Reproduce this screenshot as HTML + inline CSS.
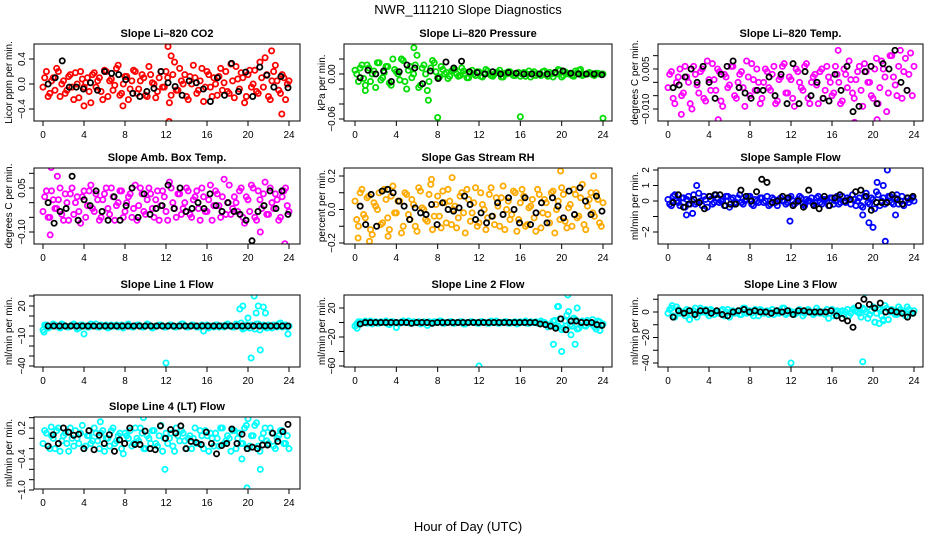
<!DOCTYPE html>
<html><head><meta charset="utf-8">
<style>
html,body{margin:0;padding:0;background:#fff;}
svg{display:block;font-family:"Liberation Sans",sans-serif;}
</style></head>
<body>
<svg id="chart" width="936" height="540" viewBox="0 0 936 540" xmlns="http://www.w3.org/2000/svg">
<text x="468" y="14" text-anchor="middle" font-size="13">NWR_111210  Slope Diagnostics</text>
<text x="468" y="531" text-anchor="middle" font-size="13">Hour of Day (UTC)</text>
</svg>
<script>
// ---------- data ----------
const xTicks = [0,4,8,12,16,20,24];

const co2Vals = [-0.05,0.2,-0.15,0.1,0.25,-0.2,0.05,-0.1,0.15,-0.25,0.0,0.2,-0.05,0.1,-0.3,0.18,0.05,-0.12,0.22,-0.2,0.08,-0.02,0.3,-0.15,0.12,-0.25,0.05,0.2,-0.08,0.15,-0.18,0.28,0.02,-0.22,0.1,-0.05,0.2,-0.3,0.15,-0.1,0.25,0.0,-0.2,0.12,0.3,-0.15,0.05,-0.28,0.2,-0.05,0.1,-0.18,0.25,0.02,-0.12,0.32,-0.22,0.08,0.18,-0.3,0.15,-0.05,0.22,-0.15,0.1,0.42,-0.2,0.05,0.3,-0.1,0.15,-0.25,0.05];
const co2Vals2 = [0.1,-0.2,0.05,-0.1,0.2,0.0,-0.15,0.12,-0.05,0.18,-0.22,0.08,0.02,-0.12,0.15,-0.05,0.1,-0.25,0.2,0.05,-0.1,0.25,-0.18,0.0,0.12,-0.08,0.22,-0.15,0.05,0.1,-0.2,0.15,0.0,-0.12,0.2,-0.05,0.1,-0.18,0.35,-0.1,0.05,0.15,-0.25,0.0,0.1,-0.1,0.25,-0.05,0.15,-0.2,0.0,0.12,-0.1,0.2,-0.15,0.05,0.28,-0.08,0.1,-0.2,0.22,0.0,-0.12,0.35,-0.05,0.15,-0.25,0.2,0.05,-0.15,0.1,0.0];
const co2Black = [0.0,0.1,0.37,-0.05,-0.05,-0.08,0.02,-0.1,0.2,0.17,0.15,0.07,-0.15,-0.2,-0.12,-0.07,0.2,0.02,-0.04,-0.18,0.05,0.02,-0.08,-0.28,0.1,-0.18,0.33,-0.12,0.19,-0.2,0.27,0.14,-0.05,0.12,-0.06];
const co2OutH = [12.2,12.3,12.5,22.3,23.3,7.8,4.0];
const co2OutV = [0.6,-0.6,0.45,0.53,-0.48,-0.35,-0.35];

const presVals = [0.005,-0.01,0.012,-0.015,0.008,0.0,-0.018,0.015,-0.005,0.01,-0.012,0.02,0.003,-0.008,0.018,-0.02,0.01,0.0,0.025,-0.015,0.012,-0.022,0.008,0.015,-0.005,0.01,0.0,-0.006,0.004,0.006,-0.003,0.008,0.0,-0.005,0.005,-0.002,0.003,-0.004,0.006,0.0,-0.003,0.002,0.005,-0.004,0.0,0.003,-0.002,0.001,-0.003,0.002,0.0,-0.004,0.003,0.0,-0.002,0.004,-0.003,0.0,0.002,0.006,-0.004,0.003,0.0,-0.002,0.004,0.005,-0.002,0.0,0.002,-0.001,0.001,0.0,0.0];
const presVals2 = [0.0,0.008,-0.006,0.012,-0.01,0.004,0.015,-0.008,0.002,0.01,-0.015,0.006,0.0,0.02,-0.01,0.005,-0.005,0.012,-0.018,0.008,0.0,-0.01,0.018,0.003,-0.004,0.006,0.002,-0.003,0.005,0.0,-0.002,0.004,-0.005,0.002,0.0,0.003,-0.003,0.001,0.004,-0.002,0.0,0.002,-0.004,0.001,0.003,0.0,-0.002,0.002,0.0,-0.003,0.004,0.001,-0.002,0.0,0.003,-0.001,0.002,-0.004,0.0,0.005,-0.002,0.001,0.0,-0.003,0.002,0.006,-0.001,0.0,0.001,-0.002,0.001,0.0];
const presBlack = [-0.005,0.005,0.0,0.004,-0.01,0.003,0.012,0.008,-0.013,0.004,-0.006,0.016,0.008,0.017,0.003,0.002,0.0,0.003,0.0,0.002,0.001,0.0,0.0,0.0,0.0,0.002,0.004,0.001,0.0,0.0,0.0,-0.001];
const presOutH = [5.7,7.1,8.0,16.0,24.0,4.5,1.0];
const presOutV = [0.035,-0.035,-0.058,-0.057,-0.059,0.02,-0.022];

const tempVals = [-0.002,0.004,-0.008,0.002,-0.005,0.006,0.0,-0.01,0.003,-0.004,0.005,-0.007,0.001,0.007,-0.003,0.004,-0.009,0.002,-0.001,0.006,-0.006,0.003,-0.002,0.008,-0.005,0.001,0.005,-0.008,0.0,0.004,-0.003,0.006,-0.007,0.002,0.007,-0.004,0.001,-0.009,0.004,-0.002,0.006,-0.006,0.0,0.003,-0.008,0.005,-0.003,0.002,-0.005,0.006,0.0,-0.007,0.003,0.008,-0.004,0.001,0.006,-0.009,0.004,0.0,-0.006,0.009,-0.002,0.005,-0.011,0.01,0.002,-0.005,0.012,0.004,-0.003,0.011,0.006];
const tempVals2 = [0.003,-0.006,0.0,0.005,-0.004,0.002,-0.008,0.006,-0.001,0.004,-0.006,0.008,-0.003,0.001,0.005,-0.007,0.003,-0.002,0.006,-0.005,0.0,0.004,-0.009,0.002,0.007,-0.003,0.0,-0.006,0.005,-0.002,0.003,-0.008,0.001,0.006,-0.004,0.002,-0.006,0.005,0.0,-0.003,0.007,-0.008,0.002,-0.001,0.004,-0.006,0.006,0.0,-0.004,0.003,-0.008,0.005,-0.002,0.001,-0.006,0.004,-0.003,0.007,0.0,-0.005,0.005,-0.008,0.008,0.002,-0.004,0.01,-0.001,0.006,-0.006,0.009,0.003,-0.005];
const tempBlack = [-0.002,-0.001,0.002,0.005,0.0,0.006,0.0,-0.006,0.003,0.006,0.008,-0.002,-0.004,-0.006,-0.003,-0.003,0.002,-0.005,0.003,-0.008,0.007,-0.008,0.004,-0.005,0.0,-0.006,-0.007,0.003,-0.003,0.006,-0.011,-0.009,0.004,0.006,-0.008,0.007,0.005,0.012,0.0,-0.003,-0.017];
const tempOutH = [1.3,4.9,16.6,18.2,20.4,22.3,23.9];
const tempOutV = [-0.012,-0.014,0.012,-0.015,-0.014,0.016,-0.017];

const ambVals = [-0.03,0.04,-0.05,0.01,-0.02,0.05,-0.06,0.0,0.03,-0.04,0.02,-0.07,0.04,-0.01,0.06,-0.03,0.01,-0.05,0.03,-0.02,0.05,-0.06,0.0,0.04,-0.03,0.02,-0.05,0.06,-0.01,0.03,-0.04,0.05,-0.02,0.01,-0.06,0.04,-0.03,0.07,0.0,-0.05,0.03,-0.02,0.05,-0.04,0.01,0.04,-0.06,0.02,-0.03,0.06,-0.01,0.03,-0.05,0.08,0.0,-0.04,0.02,-0.03,0.05,-0.07,0.01,0.06,-0.05,0.04,-0.02,0.07,-0.04,0.0,0.03,-0.06,0.02,0.05,-0.03];
const ambVals2 = [0.02,-0.05,0.04,-0.02,0.01,-0.04,0.03,-0.06,0.05,0.0,-0.03,0.02,-0.05,0.04,-0.02,0.03,-0.06,0.01,0.05,-0.04,0.02,-0.01,0.04,-0.05,0.0,0.03,-0.02,-0.06,0.05,-0.03,0.01,0.03,-0.05,0.04,-0.01,0.02,-0.06,0.05,-0.02,0.03,-0.04,0.0,0.04,-0.05,0.02,-0.02,0.05,-0.03,0.01,-0.06,0.04,-0.01,0.02,-0.04,0.06,-0.02,0.0,0.04,-0.05,0.02,-0.03,0.05,-0.06,0.01,0.03,-0.04,0.05,-0.02,0.01,-0.05,0.04,-0.01];
const ambBlack = [0.0,-0.07,-0.03,-0.02,0.09,-0.06,0.01,-0.01,0.04,-0.03,-0.06,0.02,-0.06,-0.01,0.05,-0.05,0.03,-0.04,-0.02,-0.01,0.06,-0.02,0.05,-0.03,-0.02,0.0,-0.02,0.03,-0.01,-0.03,0.0,-0.03,-0.04,-0.06,-0.13,-0.03,-0.01,0.04,-0.02,0.04,-0.04];
const ambOutH = [0.8,1.4,13.9,18.2,21.2,23.6,0.7];
const ambOutV = [0.12,0.09,0.13,0.13,-0.1,-0.14,-0.11];

const rhVals = [0.05,-0.1,0.12,-0.05,0.08,-0.15,0.02,0.1,-0.08,0.06,-0.12,0.14,-0.02,0.05,-0.1,0.09,-0.06,0.03,-0.13,0.11,0.0,-0.07,0.15,-0.04,0.08,-0.11,0.04,0.12,-0.09,0.02,-0.05,0.1,-0.14,0.06,-0.02,0.13,-0.08,0.03,-0.12,0.09,-0.04,0.07,-0.1,0.14,0.0,-0.06,0.11,-0.13,0.04,0.08,-0.09,0.02,-0.05,0.12,-0.11,0.06,-0.03,0.1,-0.14,0.05,0.13,-0.07,0.01,-0.1,0.09,-0.04,0.15,-0.12,0.06,-0.02,0.1,-0.08,0.04];
const rhVals2 = [-0.06,0.1,-0.03,0.07,-0.12,0.04,0.0,-0.09,0.12,-0.05,0.08,-0.02,0.05,-0.14,0.1,-0.03,0.06,-0.1,0.13,0.01,-0.06,0.09,-0.12,0.03,-0.04,0.11,-0.08,0.05,0.0,-0.11,0.08,-0.02,0.12,-0.07,0.04,-0.1,0.1,0.0,-0.05,0.13,-0.09,0.02,0.07,-0.12,0.05,-0.03,0.1,-0.06,0.12,-0.1,0.01,0.06,-0.13,0.09,-0.02,0.04,-0.08,0.11,0.0,-0.06,0.09,-0.11,0.03,0.12,-0.05,0.07,-0.09,0.02,0.1,-0.04,0.06,-0.1];
const rhBlack = [0.02,-0.09,0.09,-0.1,0.11,0.12,0.1,0.05,0.02,-0.06,0.01,-0.02,-0.03,0.03,-0.09,0.04,0.0,-0.01,0.01,0.08,0.03,-0.06,-0.02,-0.08,-0.04,0.04,-0.03,0.07,0.0,-0.08,0.07,-0.09,-0.02,0.04,-0.08,0.07,0.02,-0.05,0.11,-0.03,0.13,0.05,-0.03,0.08,-0.01];
const rhOutH = [0.3,1.4,7.4,9.4,19.9,23.1,3.2];
const rhOutV = [-0.17,-0.19,0.18,0.19,0.23,0.2,-0.16];

const sampVals = [0.1,-0.3,0.4,-0.1,0.2,-0.4,0.3,0.0,-0.2,0.5,-0.3,0.1,0.3,-0.2,0.4,-0.1,0.0,0.3,-0.4,0.2,-0.1,0.4,-0.2,0.1,0.3,-0.3,0.0,0.2,-0.1,0.3,-0.2,0.1,-0.3,0.2,0.0,-0.1,0.3,-0.2,0.1,0.2,-0.3,0.0,0.2,-0.1,0.3,-0.2,0.1,-0.3,0.2,0.0,-0.2,0.3,-0.1,0.1,0.4,-0.3,0.2,-0.4,0.5,-0.2,0.1,0.6,-0.3,0.2,-0.1,0.3,-0.2,0.4,0.0,-0.3,0.2,0.1,0.0];
const sampVals2 = [-0.2,0.3,0.0,-0.3,0.2,0.1,-0.2,0.4,-0.1,0.0,0.3,-0.4,0.1,-0.1,0.2,0.0,-0.3,0.3,0.1,-0.2,0.2,-0.1,0.0,0.3,-0.2,0.1,-0.1,0.2,0.0,-0.3,0.2,-0.1,0.1,0.0,-0.2,0.2,0.0,-0.1,0.3,-0.2,0.1,0.0,-0.2,0.2,-0.1,0.1,0.0,0.2,-0.2,0.3,-0.1,0.0,0.2,-0.2,0.1,0.0,-0.3,0.3,-0.1,0.2,-0.5,0.4,0.0,-0.2,0.3,-0.1,0.2,-0.2,0.3,0.0,-0.1,0.2];
const sampBlack = [-0.1,0.4,-0.4,-0.2,0.1,-0.1,-0.5,0.3,0.4,0.4,-0.3,-0.2,-0.2,0.7,0.3,0.0,0.6,1.4,1.2,-0.1,0.0,0.3,0.2,-0.3,0.0,-0.4,0.7,-0.3,-0.5,0.3,-0.3,0.2,0.4,0.0,0.1,0.6,0.7,0.3,-0.6,-0.1,-0.1,-0.1,0.4,0.1,-0.2,0.2,0.3];
const sampOutH = [1.8,2.4,2.8,11.9,19.0,19.6,20.0,20.4,21.0,21.2,21.4,22.2];
const sampOutV = [-0.9,-0.8,1.0,-1.3,-0.9,-1.4,-1.7,1.2,1.0,-2.6,2.0,-0.9];

const l1Vals = [-4,1,-1,2,0,-2,1,-1,0,2,-3,1,0,-1,2,0,-1,1,0,-2,1,0,-1,1,0,2,-1,0,1,-1,0,1,-2,0,1,0,-1,1,0,-1,0,2,-1,0,1,-1,0,-5,1,0,-1,1,0,-1,2,0,-1,1,3,-2,0,1,-3,2,0,-1,1,-2,0,2,-1,1,0];
const l1Vals2 = [1,-2,0,1,-1,2,0,-1,1,0,-2,1,0,-1,1,2,-1,0,1,-1,0,1,0,-2,1,0,-1,1,0,-1,2,0,-1,0,1,-1,0,1,-1,0,2,0,-1,1,0,-1,1,0,-2,0,1,-1,0,1,0,-1,2,0,-3,1,-2,0,2,-4,1,-2,0,1,-1,3,0,-1];
const l1Black = [0,0,0,0,0,0,0,0,0,0,0,0,0,0,0,0,0,0,0,0,0,0,0,0,0,0,0,0,0,0,0,0,0,0,0,0,0,0,0,0,0,0,0];
const l1OutH = [4.0,12.0,19.2,19.5,20.0,20.3,20.6,20.8,21.0,21.2,21.5,21.7,23.9,0.1];
const l1OutV = [-8,-37,17,20,8,-32,30,13,20,-24,19,13,-8,-6];

const l2Vals = [-5,1,-1,2,0,-2,1,-1,0,2,-3,1,0,-1,2,0,-1,1,0,-2,1,-4,-1,1,0,2,-1,0,1,-1,0,1,-2,0,1,0,-1,1,0,-1,0,2,-1,0,1,-1,0,-2,1,0,-1,1,0,-1,2,0,-6,-3,3,-5,-10,2,15,-5,4,-8,2,-5,0,4,-9,1,-2];
const l2Vals2 = [-2,1,0,-1,2,0,-1,1,0,-2,1,0,-1,1,0,2,-1,0,1,-1,0,1,-1,0,2,-1,0,1,-1,0,1,-2,0,1,0,-1,1,0,-1,2,0,-1,0,1,-1,0,1,-1,0,2,-1,0,1,-1,0,-2,-4,2,-6,5,-8,10,-3,6,-9,1,-4,3,-2,-6,2,-3];
const l2Black = [-2,0,0,0,0,0,0,0,0,0,-1,0,0,0,-1,0,0,0,0,0,0,0,0,0,0,0,0,0,0,0,0,0,0,0,0,-2,-3,-5,-8,5,-10,2,2,0,0,0,-3,-4];
const l2OutH = [0.2,4.0,12.0,19.2,19.6,20.0,20.4,20.6,20.9,21.3,19.7,21.5,23.7];
const l2OutV = [-8,-7,-60,-30,22,-40,-5,38,-17,-30,22,20,-11];

const l3Vals = [-1,3,-4,2,0,-3,1,-2,3,-1,0,2,-3,1,0,-1,2,0,-4,1,0,-2,3,-1,1,-3,0,2,-1,1,0,-2,1,0,3,-1,0,-2,1,0,-1,2,0,-1,1,0,-2,-5,2,0,-1,1,0,-3,2,1,-1,3,0,-2,4,-1,2,-6,3,0,1,-2,2,0,4,-1,1];
const l3Vals2 = [2,-3,4,-1,0,2,-2,1,-4,3,0,-1,2,-2,0,1,-3,2,0,-1,1,-2,3,0,-1,2,-3,1,0,-2,2,0,-1,3,-2,1,0,-1,2,-3,1,0,-2,3,-1,0,2,-1,-3,1,0,-2,2,-1,3,0,-4,2,-5,1,-8,3,-3,5,-6,2,-2,4,0,-3,2,-1];
const l3Black = [-4,1,-1,1,-2,1,1,-1,1,-2,-3,0,1,2,0,1,0,0,-1,1,0,1,-2,1,1,0,0,0,0,1,-3,-5,-7,-12,5,10,6,3,7,0,1,0,-1,-4,-1];
const l3OutH = [0.4,2.1,12.0,19.0,19.2,20.2,20.6,21.0];
const l3OutV = [5,-6,-40,-39,15,-8,-9,-7];

const l4Vals = [-0.1,0.1,-0.2,0.0,0.15,-0.25,0.05,-0.1,0.2,-0.15,0.0,0.1,-0.2,0.05,-0.1,0.2,-0.05,0.1,-0.25,0.0,0.15,-0.1,0.05,-0.2,0.1,0.0,-0.15,0.2,-0.05,0.1,-0.2,0.0,0.15,-0.1,0.05,-0.25,0.1,0.0,-0.15,0.2,-0.05,0.1,-0.2,0.05,0.0,-0.1,0.15,-0.2,0.05,0.1,-0.15,0.0,0.2,-0.1,0.05,-0.25,0.15,0.0,-0.1,0.2,-0.2,0.05,0.25,-0.15,0.0,0.2,-0.1,0.1,-0.2,0.05,0.15,-0.1,-0.2];
const l4Vals2 = [0.15,-0.15,0.05,-0.2,0.2,-0.05,0.1,-0.25,0.0,0.15,-0.1,0.25,-0.15,0.05,-0.05,0.1,-0.2,0.15,0.0,-0.15,0.2,-0.05,0.1,-0.3,0.05,0.15,-0.1,0.0,0.2,-0.2,0.05,-0.1,0.15,-0.15,0.25,0.0,-0.1,0.1,-0.25,0.05,0.15,-0.05,0.0,-0.2,0.2,-0.1,0.05,0.15,-0.25,0.0,0.1,-0.15,0.2,-0.05,0.0,0.15,-0.2,0.1,-0.1,0.25,-0.15,0.05,0.3,-0.25,0.1,-0.05,0.2,-0.15,0.0,0.15,-0.1,0.05];
const l4Black = [-0.15,0.07,-0.1,0.2,0.12,0.06,0.08,-0.2,0.15,-0.22,0.06,-0.1,0.07,-0.25,-0.03,-0.1,0.2,-0.12,-0.12,0.14,-0.2,-0.22,0.24,0.0,0.17,0.1,0.24,-0.2,-0.06,-0.08,-0.12,0.12,-0.1,-0.3,-0.14,-0.1,0.18,-0.1,0.08,-0.2,-0.17,-0.2,-0.13,-0.13,0.1,-0.06,0.13,0.27];
const l4OutH = [4.0,5.6,9.8,11.9,19.4,19.9,20.0,21.2,0.8];
const l4OutV = [-1.04,0.32,0.4,-0.6,-0.4,-0.96,0.38,-0.6,0.22];

// tick values / labels per panel
const co2Ticks = [-0.4,0.0,0.4], co2Labels = ["\u22120.4","0.0","0.4"];
const presTicks = [0.02,0.0,-0.02,-0.04,-0.06], presLabels = ["","0.00","","","\u22120.06"];
const tempTicks = [0.01,0.005,0,-0.005,-0.01], tempLabels = ["","0.005","","","\u22120.010"];
const ambTicks = [0.1,0.05,0,-0.05,-0.1], ambLabels = ["","0.05","","","\u22120.10"];
const rhTicks = [0.2,0.1,0,-0.1,-0.2], rhLabels = ["0.2","","0.0","","\u22120.2"];
const sampTicks = [2,1,0,-1,-2], sampLabels = ["2","1","0","","\u22122"];
const l1Ticks = [30,20,10,0,-10,-20,-30,-40], l1Labels = ["","20","","","\u221210","","","\u221240"];
const l2Ticks = [40,20,0,-20,-40,-60], l2Labels = ["","20","","\u221220","","\u221260"];
const l3Ticks = [10,0,-10,-20,-30,-40], l3Labels = ["","0","","\u221220","","\u221240"];
const l4Ticks = [0.4,0.2,0,-0.2,-0.4,-0.6,-0.8,-1.0], l4Labels = ["","0.2","","","\u22120.4","","","\u22121.0"];

// ---------- layout ----------
const cols = [{L:34,R:300,x0:43,x24:289,yt:8},{L:344,R:612,x0:355,x24:603,yt:321},{L:658,R:923,x0:668,x24:914,yt:634}];
const rows = [{T:44,B:121},{T:168,B:244},{T:295,B:367},{T:417,B:489}];

const panels = [
 {name:'co2',title:'Slope Li\u2013820 CO2',yl:'Licor ppm per min.',c:0,r:0,col:'#ff0000',v:co2Vals,v2:co2Vals2,b:co2Black,oh:co2OutH,ov:co2OutV,t:co2Ticks,tl:co2Labels,ref:[0.4,59,-0.4,109]},
 {name:'pressure',title:'Slope Li\u2013820 Pressure',yl:'kPa per min.',c:1,r:0,col:'#00dd00',v:presVals,v2:presVals2,b:presBlack,oh:presOutH,ov:presOutV,t:presTicks,tl:presLabels,ref:[0,74,-0.06,119]},
 {name:'li820-temp',title:'Slope Li\u2013820 Temp.',yl:'degrees C per min.',c:2,r:0,col:'#ff00ff',v:tempVals,v2:tempVals2,b:tempBlack,oh:tempOutH,ov:tempOutV,t:tempTicks,tl:tempLabels,ref:[0.005,69,-0.01,109]},
 {name:'amb-box-temp',title:'Slope Amb. Box Temp.',yl:'degrees C per min.',c:0,r:1,col:'#ff00ff',v:ambVals,v2:ambVals2,b:ambBlack,oh:ambOutH,ov:ambOutV,t:ambTicks,tl:ambLabels,ref:[0.05,188,-0.1,232]},
 {name:'gas-stream-rh',title:'Slope Gas Stream RH',yl:'percent per min.',c:1,r:1,col:'#ffaa00',v:rhVals,v2:rhVals2,b:rhBlack,oh:rhOutH,ov:rhOutV,t:rhTicks,tl:rhLabels,ref:[0.2,176,-0.2,243]},
 {name:'sample-flow',title:'Slope Sample Flow',yl:'ml/min per min.',c:2,r:1,col:'#0000ff',v:sampVals,v2:sampVals2,b:sampBlack,oh:sampOutH,ov:sampOutV,t:sampTicks,tl:sampLabels,ref:[2,170,-2,232]},
 {name:'line1-flow',title:'Slope Line 1 Flow',yl:'ml/min per min.',c:0,r:2,col:'#00ffff',v:l1Vals,v2:l1Vals2,b:l1Black,oh:l1OutH,ov:l1OutV,t:l1Ticks,tl:l1Labels,ref:[20,306,-40,366]},
 {name:'line2-flow',title:'Slope Line 2 Flow',yl:'ml/min per min.',c:1,r:2,col:'#00ffff',v:l2Vals,v2:l2Vals2,b:l2Black,oh:l2OutH,ov:l2OutV,t:l2Ticks,tl:l2Labels,ref:[20,308,-60,366]},
 {name:'line3-flow',title:'Slope Line 3 Flow',yl:'ml/min per min.',c:2,r:2,col:'#00ffff',v:l3Vals,v2:l3Vals2,b:l3Black,oh:l3OutH,ov:l3OutV,t:l3Ticks,tl:l3Labels,ref:[0,312,-40,363]},
 {name:'line4-flow',title:'Slope Line 4 (LT) Flow',yl:'ml/min per min.',c:0,r:3,col:'#00ffff',v:l4Vals,v2:l4Vals2,b:l4Black,oh:l4OutH,ov:l4OutV,t:l4Ticks,tl:l4Labels,ref:[0.2,428,-0.4,459]}
];

const NS='http://www.w3.org/2000/svg';
const svg=document.getElementById('chart');
function mk(tag,attrs,parent){const e=document.createElementNS(NS,tag);for(const k in attrs)e.setAttribute(k,attrs[k]);(parent||svg).appendChild(e);return e;}

panels.forEach(p=>{
  const C=cols[p.c],R=rows[p.r];
  const g=mk('g',{});
  
  
  const xs=h=>C.x0+(C.x24-C.x0)*h/24;
  const [v1,p1,v2,p2]=p.ref;
  const ys=v=>p1+(v-v1)*(p2-p1)/(v2-v1);
  const t=mk('text',{x:(C.L+C.R)/2,y:R.T-7,'text-anchor':'middle','font-size':11,'font-weight':'bold'},g);
  t.textContent=p.title;
  
  
  const yl=mk('text',{x:0,y:0,'text-anchor':'middle','font-size':10,transform:`translate(${C.yt+4},${(R.T+R.B)/2}) rotate(-90)`},g);
  yl.textContent=p.yl;
  
  
  const cid='clip-'+p.name;
  const cp=mk('clipPath',{id:cid},g);
  mk('rect',{x:C.L,y:R.T,width:C.R-C.L,height:R.B-R.T},cp);
  const pts=mk('g',{'clip-path':`url(#${cid})`,fill:'none'},g);
  
  
  const n=p.v.length;
  p.v.forEach((v,i)=>{
    const c=mk('circle',{cx:xs(i*24/(n-1)),cy:ys(v),r:2.6,stroke:p.col,'stroke-width':1.8},pts);
    
    
  });
  const n2=p.v2.length;
  p.v2.forEach((v,i)=>{
    const c=mk('circle',{cx:xs((i+0.5)*24/n2),cy:ys(v),r:2.6,stroke:p.col,'stroke-width':1.8},pts);
    
    
  });
  p.oh.forEach((h,i)=>{
    const c=mk('circle',{cx:xs(h),cy:ys(p.ov[i]),r:2.6,stroke:p.col,'stroke-width':1.8},pts);
    
    
  });
  const nb=p.b.length;
  p.b.forEach((v,i)=>{
    const c=mk('circle',{cx:xs(0.5+i*23.4/(nb-1)),cy:ys(v),r:2.6,stroke:'#000','stroke-width':1.8},pts);
    
    
  });
  const box=mk('rect',{x:C.L,y:R.T,width:C.R-C.L,height:R.B-R.T,fill:'none',stroke:'#000','stroke-width':1},g);
  
  
  xTicks.forEach(h=>{
    mk('line',{x1:xs(h),x2:xs(h),y1:R.B,y2:R.B+5,stroke:'#000'},g);
    const tx=mk('text',{x:xs(h),y:R.B+17,'text-anchor':'middle','font-size':10},g);
    tx.textContent=h;
    
    
  });
  p.t.forEach((v,i)=>{
    const y=ys(v);
    if(y<R.T-1||y>R.B+1)return;
    mk('line',{x1:C.L-5,x2:C.L,y1:y,y2:y,stroke:'#000'},g);
    if(p.tl[i]){
      const ty=mk('text',{x:0,y:0,'text-anchor':'middle','font-size':10,transform:`translate(${C.L-9},${y}) rotate(-90)`},g);
      ty.textContent=p.tl[i];
      
      
    }
  });
});
</script>
</body></html>
